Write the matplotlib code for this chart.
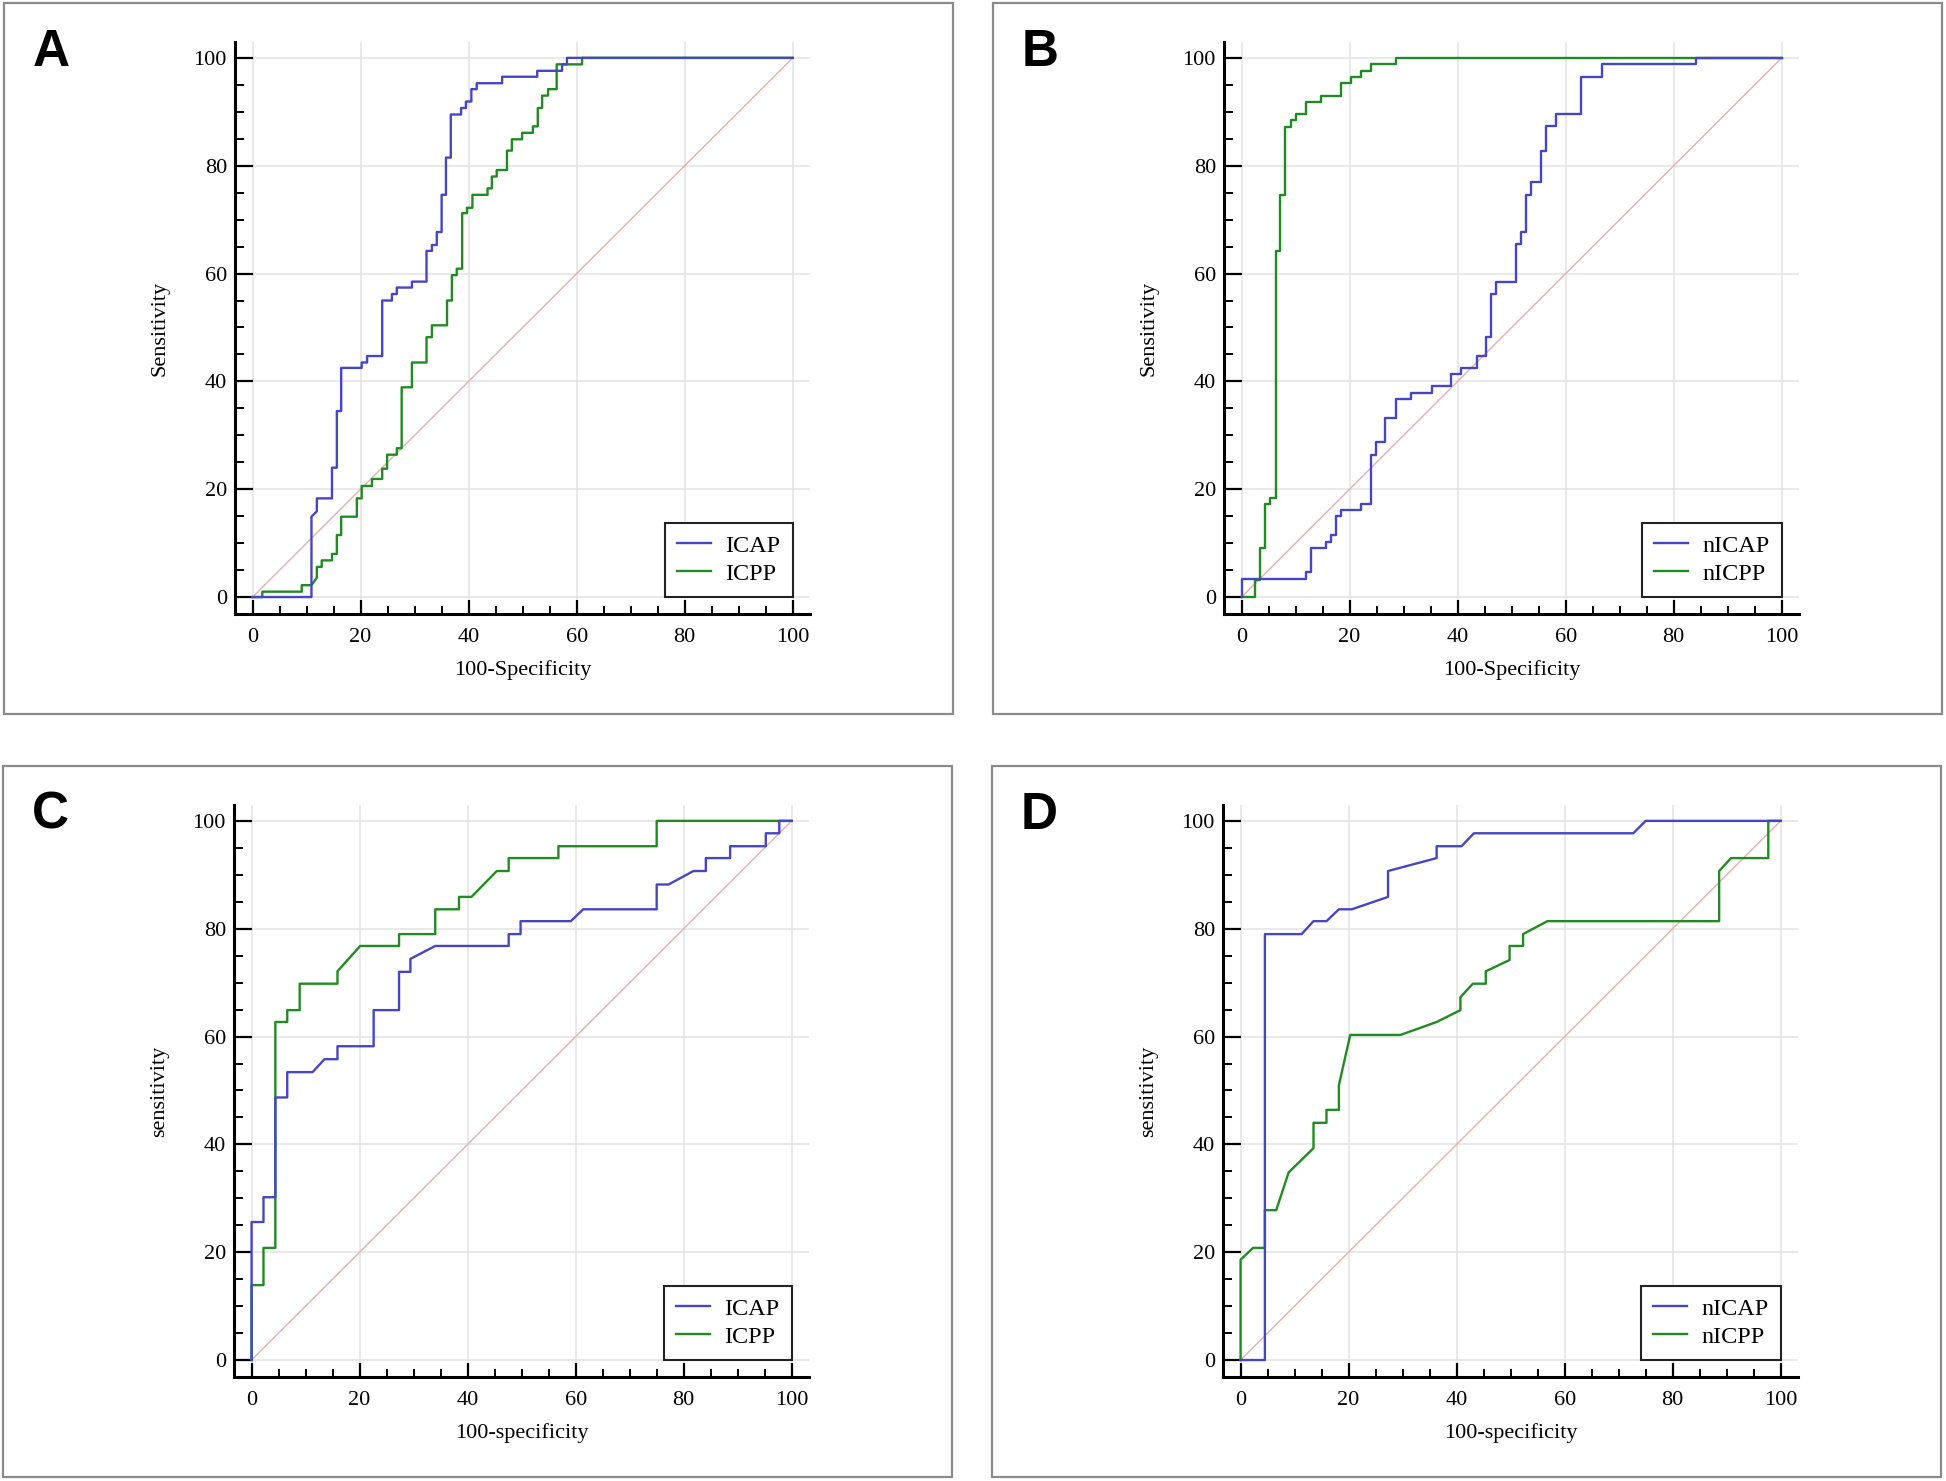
import matplotlib
matplotlib.use('Agg')
import matplotlib.pyplot as plt
from matplotlib.patches import Rectangle
from matplotlib.ticker import MultipleLocator

plt.rcParams['font.family'] = ['Liberation Serif', 'DejaVu Serif']

# ROC curve vertices (100-specificity, sensitivity)
a_icap_x = [0, 10.9, 10.9, 11.9, 11.9, 14.7, 14.7, 15.6, 15.6, 16.4, 16.4, 20.2, 20.2, 21.2, 21.2, 24.0, 24.0,
            25.8, 25.8, 26.7, 26.7, 29.5, 29.5, 32.2, 32.2, 33.2, 33.2, 34.1, 34.1, 35.0, 35.0, 35.8, 35.8,
            36.7, 36.7, 38.6, 38.6, 39.5, 39.5, 40.5, 40.5, 41.5, 41.5, 46.2, 46.2, 52.7, 52.7, 57.3, 57.3,
            58.2, 58.2, 100]
a_icap_y = [0, 0, 14.9, 15.9, 18.3, 18.3, 24.0, 24.0, 34.5, 34.5, 42.5, 42.5, 43.5, 43.5, 44.7, 44.7, 55.0,
            55.0, 56.2, 56.2, 57.4, 57.4, 58.5, 58.5, 64.2, 64.2, 65.3, 65.3, 67.7, 67.7, 74.6, 74.6, 81.5,
            81.5, 89.5, 89.5, 90.7, 90.7, 91.9, 91.9, 94.2, 94.2, 95.3, 95.3, 96.5, 96.5, 97.6, 97.6, 98.8,
            98.8, 100, 100]
a_icpp_x = [0, 1.8, 1.8, 9.1, 9.1, 10.9, 11.9, 11.9, 12.8, 12.8, 14.7, 14.7, 15.6, 15.6, 16.4, 16.4, 19.3,
            19.3, 20.2, 20.2, 22.1, 22.1, 24.0, 24.0, 24.9, 24.9, 26.7, 26.7, 27.6, 27.6, 29.5, 29.5, 32.2,
            32.2, 33.2, 33.2, 36.0, 36.0, 36.9, 36.9, 37.8, 37.8, 38.8, 38.8, 39.7, 39.7, 40.7, 40.7, 43.5,
            43.5, 44.3, 44.3, 45.2, 45.2, 47.1, 47.1, 48.0, 48.0, 49.9, 49.9, 51.9, 51.9, 52.8, 52.8, 53.6,
            53.6, 54.7, 54.7, 56.3, 56.3, 61.0, 61.0, 100]
a_icpp_y = [0, 0, 1.0, 1.0, 2.2, 2.2, 3.6, 5.6, 5.6, 6.8, 6.8, 8.0, 8.0, 11.5, 11.5, 14.9, 14.9, 18.3, 18.3,
            20.6, 20.6, 21.9, 21.9, 23.8, 23.8, 26.4, 26.4, 27.6, 27.6, 38.9, 38.9, 43.5, 43.5, 48.2, 48.2,
            50.4, 50.4, 55.0, 55.0, 59.7, 59.7, 60.9, 60.9, 71.2, 71.2, 72.2, 72.2, 74.6, 74.6, 75.8, 75.8,
            78.0, 78.0, 79.2, 79.2, 82.8, 82.8, 84.9, 84.9, 86.1, 86.1, 87.3, 87.3, 90.7, 90.7, 93.0, 93.0,
            94.2, 94.2, 98.8, 98.8, 100, 100]

b_nicap_x = [0, 0, 11.9, 11.9, 12.8, 12.8, 15.6, 15.6, 16.5, 16.5, 17.5, 17.5, 18.4, 18.4, 22.1, 22.1, 24.0,
             24.0, 24.8, 24.8, 26.6, 26.6, 28.6, 28.6, 31.4, 31.4, 35.3, 35.3, 38.8, 38.8, 40.7, 40.7, 43.5,
             43.5, 45.3, 45.3, 46.2, 46.2, 47.1, 47.1, 50.8, 50.8, 51.7, 51.7, 52.7, 52.7, 53.6, 53.6, 55.4,
             55.4, 56.3, 56.3, 58.2, 58.2, 62.9, 62.9, 66.7, 66.7, 84.1, 84.1, 100]
b_nicap_y = [0, 3.4, 3.4, 4.6, 4.6, 9.1, 9.1, 10.3, 10.3, 11.6, 11.6, 15.0, 15.0, 16.1, 16.1, 17.2, 17.2,
             26.4, 26.4, 28.8, 28.8, 33.3, 33.3, 36.7, 36.7, 37.9, 37.9, 39.1, 39.1, 41.3, 41.3, 42.5, 42.5,
             44.7, 44.7, 48.2, 48.2, 56.2, 56.2, 58.5, 58.5, 65.5, 65.5, 67.7, 67.7, 74.6, 74.6, 76.9, 76.9,
             82.7, 82.7, 87.3, 87.3, 89.5, 89.5, 96.5, 96.5, 98.8, 98.8, 100, 100]
b_nicpp_x = [0, 2.5, 2.5, 3.5, 3.5, 4.4, 4.4, 5.3, 5.3, 6.3, 6.3, 7.2, 7.2, 8.1, 8.1, 9.1, 9.1, 10.0, 10.0,
             11.9, 11.9, 14.7, 14.7, 18.4, 18.4, 20.3, 20.3, 22.1, 22.1, 24.0, 24.0, 28.6, 28.6, 100]
b_nicpp_y = [0, 0, 3.2, 3.2, 9.1, 9.1, 17.2, 17.2, 18.3, 18.3, 64.2, 64.2, 74.6, 74.6, 87.2, 87.2, 88.5,
             88.5, 89.6, 89.6, 91.9, 91.9, 93.0, 93.0, 95.3, 95.3, 96.5, 96.5, 97.6, 97.6, 98.8, 98.8, 100, 100]

c_icap_x = [0, 0, 2.2, 2.2, 4.4, 4.4, 6.6, 6.6, 11.3, 13.5, 15.9, 15.9, 22.6, 22.6, 27.3, 27.3, 29.4, 29.4,
            34.0, 47.6, 47.6, 49.8, 49.8, 59.1, 61.4, 75.0, 75.0, 77.2, 81.8, 84.1, 84.1, 88.6, 88.6, 95.2,
            95.2, 97.7, 97.7, 100]
c_icap_y = [0, 25.6, 25.6, 30.2, 30.2, 48.7, 48.7, 53.4, 53.4, 55.8, 55.8, 58.2, 58.2, 64.9, 64.9, 72.0,
            72.0, 74.4, 76.8, 76.8, 79.0, 79.0, 81.4, 81.4, 83.6, 83.6, 88.2, 88.2, 90.7, 90.7, 93.1, 93.1,
            95.3, 95.3, 97.7, 97.7, 100, 100]
c_icpp_x = [0, 0, 2.2, 2.2, 4.4, 4.4, 6.6, 6.6, 8.9, 8.9, 15.9, 15.9, 20.1, 27.3, 27.3, 34.0, 34.0, 38.4,
            38.4, 40.7, 45.4, 47.6, 47.6, 56.8, 56.8, 75.0, 75.0, 100]
c_icpp_y = [0, 13.9, 13.9, 20.8, 20.8, 62.7, 62.7, 64.9, 64.9, 69.8, 69.8, 72.1, 76.8, 76.8, 79.0, 79.0,
            83.6, 83.6, 85.9, 85.9, 90.7, 90.7, 93.1, 93.1, 95.3, 95.3, 100, 100]

d_nicap_x = [0, 4.5, 4.5, 11.3, 13.5, 15.9, 18.2, 20.6, 27.3, 27.3, 36.3, 36.3, 40.9, 43.2, 72.7, 75.0, 100]
d_nicap_y = [0, 0, 79.0, 79.0, 81.4, 81.4, 83.6, 83.6, 85.9, 90.7, 93.1, 95.3, 95.3, 97.7, 97.7, 100, 100]
d_nicpp_x = [0, 0, 2.3, 4.5, 4.5, 6.6, 8.9, 13.5, 13.5, 15.9, 15.9, 18.2, 18.2, 20.3, 29.6, 36.3, 40.7,
             40.7, 43.0, 45.4, 45.4, 49.8, 49.8, 52.3, 52.3, 56.8, 88.6, 88.6, 90.8, 97.7, 97.7, 100]
d_nicpp_y = [0, 18.6, 20.8, 20.8, 27.8, 27.8, 34.8, 39.3, 44.0, 44.0, 46.4, 46.4, 51.0, 60.3, 60.3, 62.7,
             64.9, 67.3, 69.8, 69.8, 72.1, 74.2, 76.8, 76.8, 79.0, 81.4, 81.4, 90.7, 93.1, 93.1, 100, 100]

panels = [
    ('A', 0, 0, a_icap_x, a_icap_y, a_icpp_x, a_icpp_y, 'ICAP', 'ICPP', 'Sensitivity', '100-Specificity'),
    ('B', 989, 0, b_nicap_x, b_nicap_y, b_nicpp_x, b_nicpp_y, 'nICAP', 'nICPP', 'Sensitivity', '100-Specificity'),
    ('C', -1, 763, c_icap_x, c_icap_y, c_icpp_x, c_icpp_y, 'ICAP', 'ICPP', 'sensitivity', '100-specificity'),
    ('D', 988, 763, d_nicap_x, d_nicap_y, d_nicpp_x, d_nicpp_y, 'nICAP', 'nICPP', 'sensitivity', '100-specificity'),
]

W, H = 1946, 1481
blue = '#4646c0'
green = '#228a22'

fig = plt.figure(figsize=(W / 100, H / 100), dpi=100)

for letter, dx, dy, x1, y1, x2, y2, lab1, lab2, ylab, xlab in panels:
    # panel frame
    fig.patches.append(Rectangle(((4 + dx) / W, 1 - (714 + dy) / H), 949 / W, 711 / H,
                                 transform=fig.transFigure, fill=False,
                                 edgecolor='#8a8a8a', lw=1.6))
    fig.text((33 + dx) / W, 1 - (66 + dy) / H, letter, family='Liberation Sans',
             fontweight='bold', fontsize=37, ha='left', va='baseline')

    left, right, top, bottom = 235.3 + dx, 810 + dx, 41.7 + dy, 614.3 + dy
    ax = fig.add_axes([left / W, 1 - bottom / H, (right - left) / W, (bottom - top) / H])
    ax.plot([0, 100], [0, 100], color='#e2b0b0', lw=1.0, zorder=1)
    ax.plot(x1, y1, color=blue, lw=1.7, label=lab1, zorder=3)
    ax.plot(x2, y2, color=green, lw=1.7, label=lab2, zorder=2)

    ax.set_xlim(-3.2, 103.2)
    ax.set_ylim(-3.2, 103.0)
    ax.spines['top'].set_visible(False)
    ax.spines['right'].set_visible(False)
    ax.spines['left'].set_linewidth(2.2)
    ax.spines['bottom'].set_linewidth(2.2)
    ax.xaxis.set_major_locator(MultipleLocator(20))
    ax.yaxis.set_major_locator(MultipleLocator(20))
    ax.xaxis.set_minor_locator(MultipleLocator(5))
    ax.yaxis.set_minor_locator(MultipleLocator(5))
    ax.tick_params(axis='x', which='major', direction='in', length=10.3, width=1.6, pad=10, labelsize=16)
    ax.tick_params(axis='x', which='minor', direction='in', length=5.5, width=1.4)
    ax.tick_params(axis='y', which='major', direction='in', length=12.6, width=1.6, pad=6, labelsize=16)
    ax.tick_params(axis='y', which='minor', direction='in', length=6.5, width=1.4)
    ax.grid(True, which='major', color='#e3e3e3', lw=1.1, zorder=0)
    ax.set_axisbelow(True)
    ax.set_xlabel(xlab, fontsize=16, labelpad=9)
    ax.set_ylabel(ylab, fontsize=16, labelpad=17)

    leg = ax.legend(loc='lower right', bbox_to_anchor=(100, 0), bbox_transform=ax.transData,
                    borderaxespad=0, fancybox=False, framealpha=1, edgecolor='#222222',
                    fontsize=17.5, handlelength=1.4, handletextpad=0.6, labelspacing=0.25,
                    borderpad=0.5)
    leg.get_frame().set_linewidth(1.5)

fig.savefig('out.png', dpi=100)
